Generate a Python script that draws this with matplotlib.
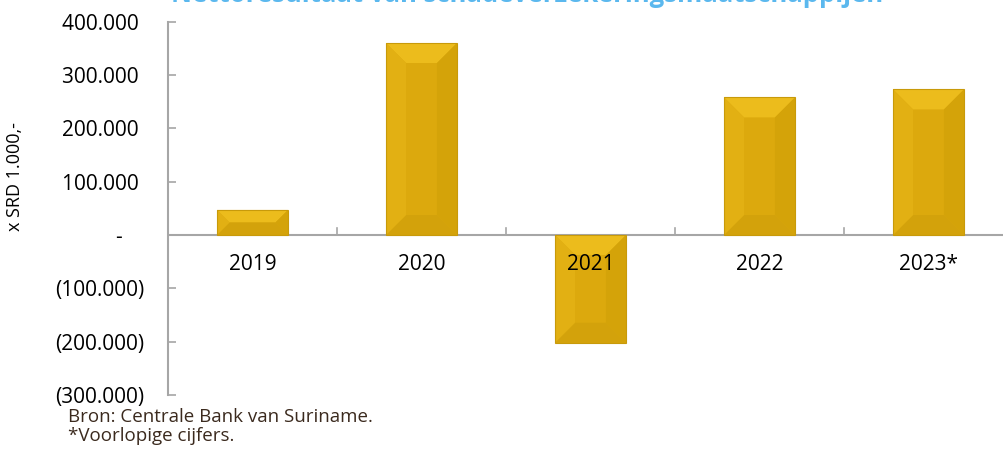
import numpy as np
from matplotlib import pyplot as plt
from matplotlib.patches import Polygon
from matplotlib.ticker import FixedLocator

jaren = ["2019", "2020", "2021", "2022", "2023*"]
resultaat = [47000, 360000, -202000, 258000, 273000]
y_ticks = [-300000, -200000, -100000, 0, 100000, 200000, 300000, 400000]
y_labels = ["(300.000)", "(200.000)", "(100.000)", "-    ", "100.000 ", "200.000 ",
            "300.000 ", "400.000 "]

plt.rcParams['font.family'] = ['Open Sans', 'DejaVu Sans']

fig = plt.figure(figsize=(10.04, 4.63), dpi=100)
ax = fig.add_axes([168 / 1004, 68 / 463, 845 / 1004, 373.3 / 463])

x = np.arange(len(jaren))
breedte = 0.42
ax.bar(x, resultaat, width=breedte, color="#DCA90D", edgecolor="none", zorder=2)

# schuine randen (bevel) per staaf
dx = 20 / 169
dy_px = 20 * 100000 / 53.4
for xi, v in zip(x, resultaat):
    l, r = xi - breedte / 2, xi + breedte / 2
    lo, hi = min(0, v), max(0, v)
    d = min(dy_px, (hi - lo) / 2)
    ddx = dx * d / dy_px
    vlakken = [
        ([(l, hi), (r, hi), (r - ddx, hi - d), (l + ddx, hi - d)], "#ECBC1C"),
        ([(l, lo), (r, lo), (r - ddx, lo + d), (l + ddx, lo + d)], "#D3A20B"),
        ([(l, lo), (l, hi), (l + ddx, hi - d), (l + ddx, lo + d)], "#E2B013"),
        ([(r, lo), (r, hi), (r - ddx, hi - d), (r - ddx, lo + d)], "#D4A309"),
    ]
    for pts, kleur in vlakken:
        ax.add_patch(Polygon(pts, closed=True, facecolor=kleur, edgecolor="none",
                             zorder=3))
    ax.add_patch(Polygon([(l, lo), (l, hi), (r, hi), (r, lo)], closed=True,
                         facecolor="none", edgecolor="#C89A0A", linewidth=0.8,
                         zorder=4))

ax.set_xlim(-0.5, len(jaren) - 0.5)
ax.set_ylim(-300000, 400000)
ax.axhline(0, color="#A6A6A6", linewidth=1.5, zorder=1)

for s in ["top", "right", "bottom"]:
    ax.spines[s].set_visible(False)
ax.spines["left"].set_color("#A6A6A6")
ax.spines["left"].set_linewidth(1.5)

ax.set_yticks(y_ticks)
ax.set_yticklabels(y_labels, fontsize=15)
ax.tick_params(axis="y", direction="in", length=6, width=1.2, color="#A6A6A6", pad=17)

ax.xaxis.set_major_locator(FixedLocator(x[:-1] + 0.5))
ax.set_xticklabels([])
ax.tick_params(axis="x", length=0)
for xi in x[:-1] + 0.5:
    ax.plot([xi, xi], [0, 13000], color="#A6A6A6", linewidth=1.2, zorder=1)

for xi, jaar in zip(x, jaren):
    ax.text(xi, -56000, jaar, ha="center", va="center", fontsize=15, zorder=5)

fig.text(15 / 1004, 1 - 177 / 463, "x SRD 1.000,-", rotation=90, ha="center",
         va="center", fontsize=13)

# titel valt grotendeels buiten de figuur, net als in het origineel
fig.text(527 / 1004, 1 - 2 / 463, "Nettoresultaat van schadeverzekeringsmaatschappijen",
         ha="center", va="baseline", fontsize=18.5, fontweight="bold", color="#5BB8EE")

fig.text(68 / 1004, 1 - 417 / 463, "Bron: Centrale Bank van Suriname.", ha="left",
         va="center", fontsize=13.5, color="#3B2A1E")
fig.text(68 / 1004, 1 - 436 / 463, "*Voorlopige cijfers.", ha="left",
         va="center", fontsize=13.5, color="#3B2A1E")

plt.savefig("out.png", dpi=100)
plt.close()
